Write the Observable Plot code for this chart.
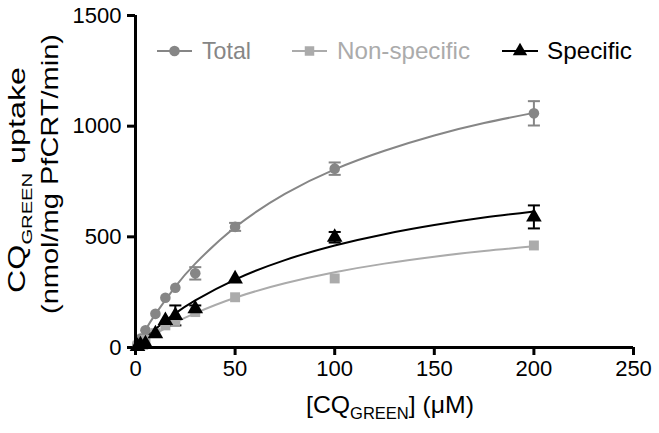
<!DOCTYPE html>
<html>
<head>
<meta charset="utf-8">
<script src="https://cdn.jsdelivr.net/npm/d3@7"></script>
<script src="https://cdn.jsdelivr.net/npm/@observablehq/plot@0.6"></script>
<style>
  html, body { margin: 0; padding: 0; background: #fff; }
  #chart { width: 659px; height: 433px; }
</style>
</head>
<body>
<div id="chart"></div>
<script>
// ---- data ----
const conc        = [1, 2.5, 5, 10, 15, 20, 30, 50, 100, 200];
const total       = [15, 40, 78, 152, 225, 270, 335, 545, 808, 1058];
const totalErr    = [0, 0, 0, 0, 0, 0, 28, 18, 28, 55];
const nonspecific = [8, 18, 35, 65, 100, 120, 160, 227, 312, 461];
const specific    = [5, 12, 17, 62, 122, 145, 175, 310, 498, 590];
const specificErr = [0, 0, 0, 0, 0, 45, 15, 0, 24, 52];

// fitted curves
const fitX        = [0, 5, 10, 20, 30, 50, 75, 100, 125, 150, 175, 200];
const totalFit    = [0, 79, 151, 275, 379, 543, 694, 805, 889, 958, 1014, 1060];
const specificFit = [0, 44, 84, 154, 213, 307, 395, 461, 512, 553, 587, 615];
const nonspecFit  = [0, 32, 61, 112, 155, 225, 290, 340, 379, 410, 436, 457];

const xTicks = [0, 50, 100, 150, 200, 250];
const yTicks = [0, 500, 1000, 1500];

const seriesNames = ["Total", "Non-specific", "Specific"];
const colors = {"Total": "#868686", "Non-specific": "#ababab", "Specific": "#000000"};

// ---- tables ----
const points = [];
conc.forEach((c, i) => {
  points.push({x: c, y: total[i], err: totalErr[i], s: "Total"});
  points.push({x: c, y: nonspecific[i], err: 0, s: "Non-specific"});
  points.push({x: c, y: specific[i], err: specificErr[i], s: "Specific"});
});
const fits = [];
fitX.forEach((c, i) => {
  fits.push({x: c, y: totalFit[i], s: "Total"});
  fits.push({x: c, y: nonspecFit[i], s: "Non-specific"});
  fits.push({x: c, y: specificFit[i], s: "Specific"});
});
const errPts = points.filter(d => d.err > 0);

const capSymbol = {
  draw(ctx, size) {
    const w = Math.sqrt(size) / 2;
    ctx.moveTo(-w, 0);
    ctx.lineTo(w, 0);
  }
};

const font = "'Liberation Sans', Arial, Helvetica, sans-serif";

const plot = Plot.plot({
  width: 659,
  height: 433,
  marginLeft: 135,
  marginRight: 26,
  marginTop: 15,
  marginBottom: 86,
  style: {fontFamily: font, fontSize: "22px", color: "#000", background: "#fff", overflow: "visible"},
  x: {domain: [0, 250]},
  y: {domain: [0, 1500]},
  marks: [
    Plot.axisX({ticks: xTicks, tickSize: 8, tickPadding: 5, strokeWidth: 3, fontSize: 22, label: null, tickFormat: d => String(d)}),
    Plot.axisY({ticks: yTicks, tickSize: 8, tickPadding: 6, strokeWidth: 3, fontSize: 22, label: null, tickFormat: d => String(d)}),
    // fit curves
    ...seriesNames.map(s => Plot.line(fits.filter(d => d.s === s), {
      x: "x", y: "y", stroke: colors[s], strokeWidth: 2, curve: "natural"
    })),
    // error bars
    ...seriesNames.map(s => Plot.ruleX(errPts.filter(d => d.s === s), {
      x: "x", y1: d => d.y - d.err, y2: d => d.y + d.err, stroke: colors[s], strokeWidth: 2
    })),
    ...seriesNames.map(s => Plot.dot(errPts.filter(d => d.s === s), {
      x: "x", y: d => d.y + d.err, symbol: capSymbol, r: 6.8, stroke: colors[s], strokeWidth: 2, fill: "none"
    })),
    ...seriesNames.map(s => Plot.dot(errPts.filter(d => d.s === s), {
      x: "x", y: d => d.y - d.err, symbol: capSymbol, r: 6.8, stroke: colors[s], strokeWidth: 2, fill: "none"
    })),
    // markers
    Plot.dot(points.filter(d => d.s === "Total"), {x: "x", y: "y", symbol: "circle", r: 5.3, fill: colors["Total"], stroke: "none"}),
    Plot.dot(points.filter(d => d.s === "Non-specific"), {x: "x", y: "y", symbol: "square", r: 5.6, fill: colors["Non-specific"], stroke: "none"}),
    Plot.dot(points.filter(d => d.s === "Specific"), {x: "x", y: "y", symbol: "triangle", r: 5.8, fill: colors["Specific"], stroke: "none"}),
    // axis lines
    Plot.ruleY([0], {strokeWidth: 3, stroke: "#000"}),
    Plot.ruleX([0], {strokeWidth: 3, stroke: "#000"})
  ]
});

document.getElementById("chart").appendChild(plot);

// ---- extra text: axis titles & legend ----
const svg = d3.select(plot);

// x-axis title
const xt = svg.append("text")
  .attr("x", 390).attr("y", 413)
  .attr("text-anchor", "middle")
  .attr("textLength", 168).attr("lengthAdjust", "spacingAndGlyphs")
  .attr("font-family", font).attr("font-size", 24).attr("fill", "#000");
xt.append("tspan").text("[CQ");
xt.append("tspan").attr("font-size", 16).attr("dy", 6).text("GREEN");
xt.append("tspan").attr("dy", -6).text("] (μM)");

// y-axis title, two rotated lines
const y1 = svg.append("text")
  .attr("transform", "translate(25,180) rotate(-90)")
  .attr("text-anchor", "middle")
  .attr("textLength", 226).attr("lengthAdjust", "spacingAndGlyphs")
  .attr("font-family", font).attr("font-size", 24).attr("fill", "#000");
y1.append("tspan").text("CQ");
y1.append("tspan").attr("font-size", 15).attr("dy", 7).text("GREEN");
y1.append("tspan").attr("dy", -7).text(" uptake");

svg.append("text")
  .attr("transform", "translate(58,174) rotate(-90)")
  .attr("text-anchor", "middle")
  .attr("textLength", 280).attr("lengthAdjust", "spacingAndGlyphs")
  .attr("font-family", font).attr("font-size", 24).attr("fill", "#000")
  .text("(nmol/mg PfCRT/min)");

// legend
const legend = [
  {s: "Total", x0: 157, x1: 192, tx: 202, len: 49, sym: d3.symbolCircle, size: Math.PI * 28},
  {s: "Non-specific", x0: 292, x1: 327, tx: 337, len: 133, sym: d3.symbolSquare, size: 90},
  {s: "Specific", x0: 502, x1: 538, tx: 547, len: 85, sym: d3.symbolTriangle, size: 90}
];
const ly = 51;
legend.forEach(L => {
  const g = svg.append("g");
  g.append("line").attr("x1", L.x0).attr("x2", L.x1).attr("y1", ly).attr("y2", ly)
    .attr("stroke", colors[L.s]).attr("stroke-width", 2);
  g.append("path").attr("d", d3.symbol(L.sym, L.size)())
    .attr("transform", `translate(${(L.x0 + L.x1) / 2},${ly})`)
    .attr("fill", colors[L.s]);
  g.append("text").attr("x", L.tx).attr("y", 59)
    .attr("text-anchor", "start")
    .attr("textLength", L.len).attr("lengthAdjust", "spacingAndGlyphs")
    .attr("font-family", font).attr("font-size", 24).attr("fill", colors[L.s])
    .text(L.s);
});
</script>
</body>
</html>
